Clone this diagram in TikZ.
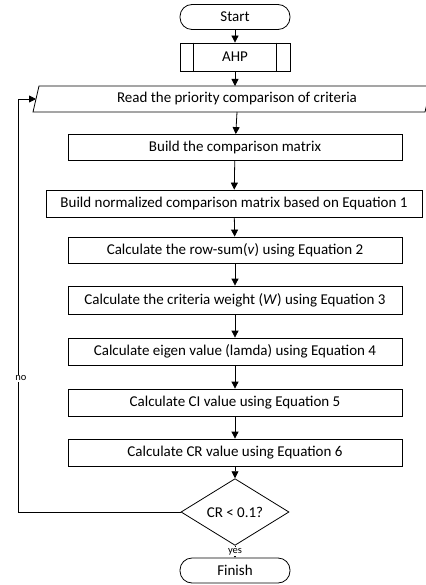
\documentclass[tikz,border=0pt]{standalone}
\usepackage{fontspec}
\setmainfont{Carlito}
\usetikzlibrary{arrows.meta,shapes.geometric,calc}

\begin{document}
\begin{tikzpicture}[
  x=1pt, y=-1pt,
  font=\fontsize{15}{17}\selectfont,
  line width=0.8pt,
  > = {Triangle[length=7pt,width=7pt]},
  terminal/.style = {draw, rounded corners=12pt, minimum width=110pt, minimum height=25pt, inner sep=0pt},
  process/.style = {draw, minimum width=334pt, minimum height=26pt, inner sep=0pt},
  decision/.style = {draw, diamond, minimum width=108pt, minimum height=42pt, inner sep=0pt},
  lbl/.style = {fill=white, inner sep=1pt, font=\fontsize{10.5}{12}\selectfont}
  ]
	\useasboundingbox (0,0) rectangle (425,585);

	\node[terminal] (start) at (235,17) {Start};
	\node[process, minimum width=110pt, minimum height=28pt] (ahp) at (235,57) {AHP};
	\draw ($(ahp.north west)+(14,0)$) -- ($(ahp.south west)+(14,0)$);
	\draw ($(ahp.north east)+(-14,0)$) -- ($(ahp.south east)+(-14,0)$);

	% input parallelogram, runs off the right edge
	\node[minimum height=26pt, inner sep=0pt] (read) at (237,99) {Read the priority comparison of criteria};
	\coordinate (rtl) at (39,86);
	\coordinate (rbl) at (33,112);
	\coordinate (rleft) at (36,99);
	\draw (rtl) -- (431,86) -- (425,112) -- (rbl) -- cycle;

	\node[process] (cmp) at (235,147.5) {Build the comparison matrix};
	\node[process, minimum width=376pt, minimum height=27pt] (norm) at (234,203.5) {Build normalized comparison matrix based on Equation 1};
	\node[process] (rowsum) at (235,250) {Calculate the row-sum(\textit{v}) using Equation 2};
	\node[process, minimum height=28pt] (weight) at (235,300) {Calculate the criteria weight (\textit{W}) using Equation 3};
	\node[process, minimum height=27pt] (eigen) at (235,351.5) {Calculate eigen value (lamda) using Equation 4};
	\node[process, minimum height=27pt] (ci) at (235,402.5) {Calculate CI value using Equation 5};
	\node[process, minimum height=27pt] (cr) at (235,452.5) {Calculate CR value using Equation 6};
	\node[decision] (dec) at (235,512) {CR < 0.1?};
	\node[terminal] (fin) at (235,570.5) {Finish};

	\draw[->] (start) -- (ahp);
	\draw[->] (ahp) -- (ahp |- rtl);
	\draw[->] (read |- rbl) -- (cmp);
	\draw[->] (cmp) -- (norm);
	\draw[->] (norm) -- (rowsum);
	\draw[->] (rowsum) -- (weight);
	\draw[->] (weight) -- (eigen);
	\draw[->] (eigen) -- (ci);
	\draw[->] (ci) -- (cr);
	\draw[->] (cr) -- (dec);
	\draw[-{Triangle[length=3pt,width=4pt]}, line width=0.6pt] (dec) -- node[lbl] {yes} (fin);
	\draw[->] (dec.west) -| node[lbl, pos=0.662, xshift=3pt] {no} (18,99) -- (rleft);

\end{tikzpicture}
\end{document}
